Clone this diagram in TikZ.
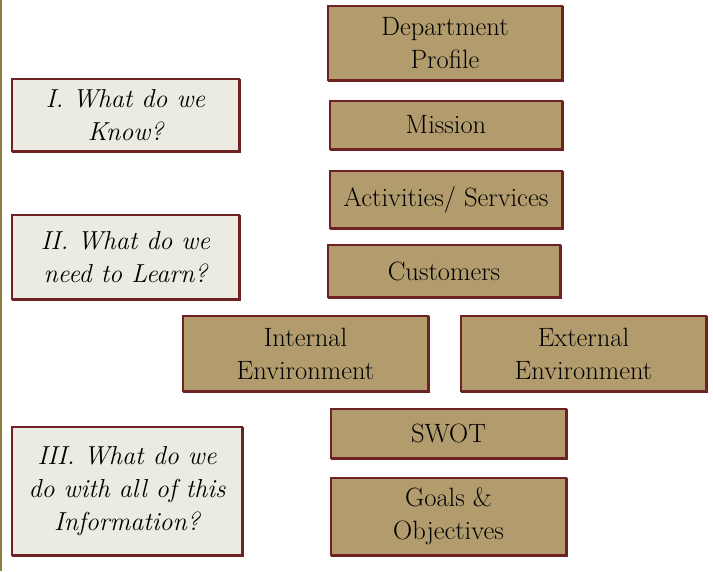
\documentclass[tikz,border=0pt]{standalone}
\usepackage{fontspec}
\definecolor{tanfill}{HTML}{B29C6D}
\definecolor{redborder}{HTML}{6E2224}
\definecolor{qfill}{HTML}{ECEBE1}
\definecolor{olive}{HTML}{8C7F3F}
\begin{document}
\begin{tikzpicture}[x=1pt,y=-1pt,
  boxbase/.style={draw=redborder,line width=2pt,inner sep=0pt,align=center,
    preaction={draw=redborder,line width=2pt,transform canvas={shift={(0.8pt,-1.2pt)}}}},
  tanbox/.style={boxbase,fill=tanfill,font=\fontsize{26.5}{33}\selectfont\addfontfeatures{FakeBold=0.8}},
  qbox/.style={boxbase,fill=qfill,font=\fontsize{26}{33}\selectfont\itshape\addfontfeatures{FakeBold=0.6}}]
\useasboundingbox (0,0) rectangle (713,571);
\draw[olive,line width=2pt] (1,0) coordinate (lt) -- (1,571) coordinate (lb);
% right column
\node[tanbox,minimum width=234pt,minimum height=74pt] (dept) at (445,43) {Department\\Profile};
\node[tanbox,minimum width=232pt,minimum height=48pt] (mission) at (446,125) {Mission};
\node[tanbox,minimum width=232pt,minimum height=57pt] (activ) at (446,199.5) {Activities/ Services};
\node[tanbox,minimum width=232pt,minimum height=52pt] (cust) at (444,271) {Customers};
\node[tanbox,minimum width=245pt,minimum height=75pt] (intern) at (305.5,353.5) {Internal\\Environment};
\node[tanbox,minimum width=245pt,minimum height=75pt] (extern) at (583.5,353.5) {External\\Environment};
\node[tanbox,minimum width=235pt,minimum height=49pt] (swot) at (448.5,433.5) {SWOT};
\node[tanbox,minimum width=235pt,minimum height=77pt] (goals) at (448.5,516.5) {Goals \&\\Objectives};
% question boxes
\node[qbox,minimum width=227pt,minimum height=72pt] (q1) at (125.5,115) {I. What do we\\Know?};
\node[qbox,minimum width=227pt,minimum height=84pt] (q2) at (125.5,257) {II. What do we\\need to Learn?};
\node[qbox,minimum width=230pt,minimum height=128pt] (q3) at (127,491) {III. What do we\\do with all of this\\Information?};
\end{tikzpicture}
\end{document}
